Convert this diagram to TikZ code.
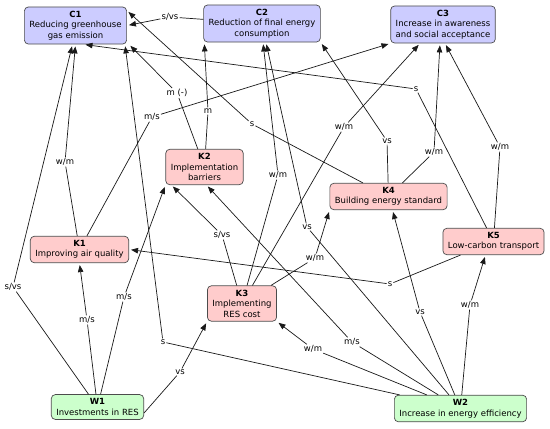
\documentclass[tikz,border=0pt]{standalone}
\usepackage{fontspec}
\setmainfont{DejaVu Sans}
\usetikzlibrary{arrows.meta,positioning,shapes}
\usepackage{xcolor}

\definecolor{goalblue}{RGB}{204,204,255}
\definecolor{keypink}{RGB}{255,204,204}
\definecolor{waygreen}{RGB}{204,255,204}

\begin{document}
\begin{tikzpicture}[x=1pt, y=-1pt,
    every node/.style={font=\fontsize{8.5}{10.5}\selectfont, align=center},
    concept/.style={rectangle, rounded corners=4pt, inner xsep=5pt, inner ysep=4pt, draw=black!70, line width=0.7pt},
    goalbox/.style={concept, fill=goalblue},
    keybox/.style={concept, fill=keypink},
    waybox/.style={concept, fill=waygreen},
    linklabel/.style={fill=white, inner sep=1pt},
    link/.style={-{Triangle[length=7pt,width=5.5pt]}, black!90, line width=0.7pt, shorten >=2pt}
]

    \path[fill=white, use as bounding box] (0, 0) rectangle (550, 429);

    % goals
    \node (c1) [goalbox, shift={(75.5, 25.5)}]
    {
        \textbf{C1}\\Reducing greenhouse\\gas emission
    };

    \node (c2) [goalbox, shift={(262, 23.5)}]
    {
        \textbf{C2}\\Reduction of final energy\\consumption
    };

    \node (c3) [goalbox, shift={(443, 24.5)}]
    {
        \textbf{C3}\\Increase in awareness\\and social acceptance
    };

    % key factors
    \node (k1) [keybox, shift={(79.5, 249.5)}]
    {
        \textbf{K1}\\Improving air quality
    };

    \node (k2) [keybox, shift={(204.5, 167)}]
    {
        \textbf{K2}\\Implementation\\barriers
    };

    \node (k3) [keybox, shift={(242, 303.5)}]
    {
        \textbf{K3}\\Implementing\\RES cost
    };

    \node (k4) [keybox, shift={(388.5, 196.5)}]
    {
        \textbf{K4}\\Building energy standard
    };

    \node (k5) [keybox, shift={(493.5, 241.5)}]
    {
        \textbf{K5}\\Low-carbon transport
    };

    % ways
    \node (w1) [waybox, shift={(97.5, 407)}]
    {
        \textbf{W1}\\Investments in RES
    };

    \node (w2) [waybox, shift={(460.5, 408.5)}]
    {
        \textbf{W2}\\Increase in energy efficiency
    };

    % link labels
    \node (lbl_c2_c1) [linklabel, shift={(170, 17)}] {s/vs};
    \node (lbl_w1_c1) [linklabel, shift={(13, 287)}] {s/vs};
    \node (lbl_k1_c1) [linklabel, shift={(65, 162)}] {w/m};
    \node (lbl_k5_c1) [linklabel, shift={(416, 89)}] {s};
    \node (lbl_w2_c1) [linklabel, shift={(163, 342)}] {s};
    \node (lbl_k2_c1) [linklabel, shift={(177, 93)}] {m (-)};
    \node (lbl_k4_c1) [linklabel, shift={(252, 124)}] {s};
    \node (lbl_k1_c3) [linklabel, shift={(152, 117)}] {m/s};
    \node (lbl_k2_c2) [linklabel, shift={(208, 111)}] {m};
    \node (lbl_k3_c2) [linklabel, shift={(278, 175)}] {w/m};
    \node (lbl_w2_c2) [linklabel, shift={(307, 227)}] {vs};
    \node (lbl_k4_c2) [linklabel, shift={(387, 141)}] {vs};
    \node (lbl_k3_c3) [linklabel, shift={(344, 127)}] {w/m};
    \node (lbl_k4_c3) [linklabel, shift={(434, 152)}] {w/m};
    \node (lbl_k5_c3) [linklabel, shift={(500, 147)}] {w/m};
    \node (lbl_w1_k1) [linklabel, shift={(87, 320)}] {m/s};
    \node (lbl_w1_k2) [linklabel, shift={(124, 297)}] {m/s};
    \node (lbl_k3_k2) [linklabel, shift={(222, 235)}] {s/vs};
    \node (lbl_w2_k2) [linklabel, shift={(352, 342)}] {m/s};
    \node (lbl_w1_k3) [linklabel, shift={(180, 372)}] {vs};
    \node (lbl_w2_k3) [linklabel, shift={(313, 349)}] {w/m};
    \node (lbl_k3_k4) [linklabel, shift={(315, 258)}] {w/m};
    \node (lbl_w2_k4) [linklabel, shift={(420, 312)}] {vs};
    \node (lbl_k5_k1) [linklabel, shift={(390, 284)}] {s};
    \node (lbl_w2_k5) [linklabel, shift={(470, 305)}] {w/m};

    % links into C1
    \draw[link] (c2) -- (lbl_c2_c1) -- (c1.east);
    \draw[link] (w1) -- (lbl_w1_c1) -- ([xshift=-3pt]c1.south);
    \draw[link] (k1) -- (lbl_k1_c1) -- (c1.south);
    \draw[link] (k5) -- (lbl_k5_c1) -- ([xshift=8pt]c1.south);
    \draw[link] (w2) -- (lbl_w2_c1) -- ([xshift=-2pt]c1.south east);
    \draw[link] (k2) -- (lbl_k2_c1) -- ([xshift=2pt]c1.south east);
    \draw[link] (k4) -- (lbl_k4_c1) -- ([yshift=-4pt]c1.north east);

    % links into C2
    \draw[link] (k2) -- (lbl_k2_c2) -- ([xshift=1pt]c2.south west);
    \draw[link] (k3) -- (lbl_k3_c2) -- ([xshift=1pt]c2.south);
    \draw[link] (w2) -- (lbl_w2_c2) -- ([xshift=4pt]c2.south);
    \draw[link] (k4) -- (lbl_k4_c2) -- (c2.south east);

    % links into C3
    \draw[link] (k1) -- (lbl_k1_c3) -- (c3.south west);
    \draw[link] (k3) -- (lbl_k3_c3) -- ([xshift=-23pt]c3.south);
    \draw[link] (k4) -- (lbl_k4_c3) -- ([xshift=-3pt]c3.south);
    \draw[link] (k5) -- (lbl_k5_c3) -- ([xshift=2pt]c3.south);

    % links between factors
    \draw[link] (w1) -- (lbl_w1_k1) -- (k1.south);
    \draw[link] (k5) -- (lbl_k5_k1) -- (k1.east);
    \draw[link] (w1) -- (lbl_w1_k2) -- (k2.south west);
    \draw[link] (k3) -- (lbl_k3_k2) -- ([xshift=6pt]k2.south west);
    \draw[link] (w2) -- (lbl_w2_k2) -- ([xshift=2pt]k2.south);
    \draw[link] ([yshift=-6pt]w1.east) -- (lbl_w1_k3) -- (k3.south west);
    \draw[link] (w2) -- (lbl_w2_k3) -- (k3.south east);
    \draw[link] (k3) -- (lbl_k3_k4) -- (k4.south west);
    \draw[link] (w2) -- (lbl_w2_k4) -- ([xshift=4pt]k4.south);
    \draw[link] (w2) -- (lbl_w2_k5) -- ([xshift=-8pt]k5.south);

\end{tikzpicture}
\end{document}
